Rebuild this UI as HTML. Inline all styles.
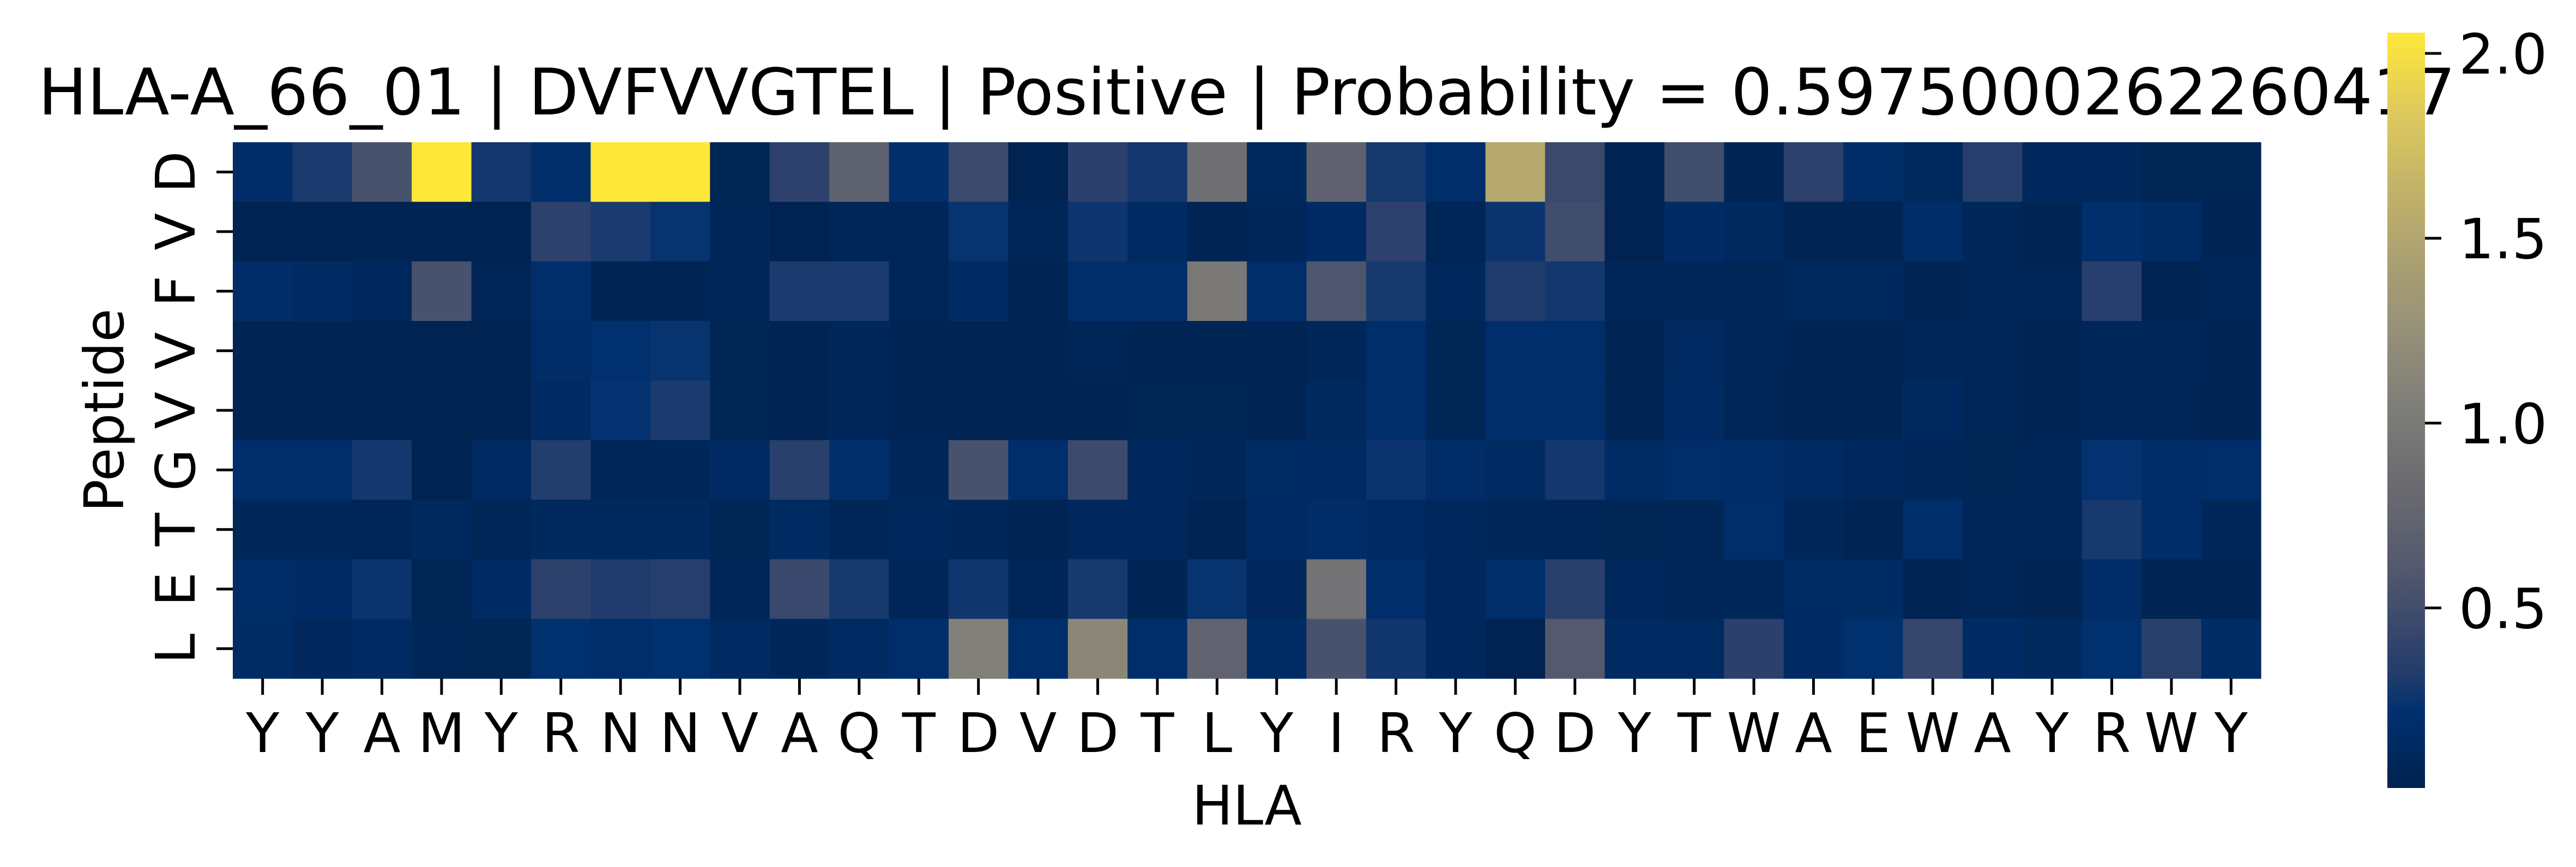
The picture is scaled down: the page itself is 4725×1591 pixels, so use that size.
<!DOCTYPE html>
<html><head><meta charset="utf-8"><style>
html,body{margin:0;padding:0;background:#fff;}
svg{display:block;font-family:"DejaVu Sans","Liberation Sans",sans-serif;}
</style></head><body>
<svg id="chart" width="4725" height="1591" viewBox="0 0 4725 1591" xmlns="http://www.w3.org/2000/svg">
<rect width="4725" height="1591" fill="#fff"/>
<text x="70" y="210" font-size="118" textLength="4434" lengthAdjust="spacingAndGlyphs">HLA-A_66_01 | DVFVVGTEL | Positive | Probability = 0.5975000262260417</text>
<g id="cells"></g>
<g id="xticks"></g>
<g id="yticks"></g>
<text x="2287" y="1513" font-size="100" text-anchor="middle">HLA</text>
<text transform="translate(226,753) rotate(-90)" font-size="100" text-anchor="middle">Peptide</text>
<defs><linearGradient id="cbgrad" x1="0" y1="1" x2="0" y2="0"></linearGradient></defs>
<rect x="4379" y="60" width="69" height="1386" fill="url(#cbgrad)"/>
<g id="cbticks"></g>
</svg>
<script>
const hlaLabels = ["Y","Y","A","M","Y","R","N","N","V","A","Q","T","D","V","D","T","L","Y","I","R","Y","Q","D","Y","T","W","A","E","W","A","Y","R","W","Y"];
const peptideLabels = ["D","V","F","V","V","G","T","E","L"];
const rowD = [0.16,0.30,0.54,2.05,0.28,0.20,2.05,2.05,0.06,0.38,0.71,0.20,0.46,0.03,0.37,0.28,0.87,0.10,0.72,0.29,0.18,1.52,0.46,0.03,0.50,0.05,0.38,0.16,0.10,0.34,0.09,0.09,0.06,0.06];
const rowV1 = [0.03,0.03,0.04,0.04,0.03,0.38,0.30,0.24,0.08,0.03,0.07,0.07,0.24,0.07,0.26,0.13,0.05,0.08,0.12,0.38,0.07,0.25,0.50,0.03,0.14,0.11,0.05,0.05,0.17,0.08,0.04,0.20,0.15,0.05];
const rowF = [0.16,0.13,0.09,0.54,0.07,0.19,0.05,0.05,0.08,0.30,0.30,0.07,0.14,0.04,0.18,0.18,0.99,0.19,0.58,0.29,0.09,0.31,0.28,0.08,0.08,0.07,0.10,0.10,0.05,0.07,0.07,0.35,0.04,0.08];
const rowV2 = [0.05,0.04,0.04,0.03,0.03,0.16,0.21,0.24,0.06,0.04,0.08,0.05,0.05,0.05,0.07,0.05,0.05,0.05,0.08,0.19,0.06,0.19,0.19,0.04,0.12,0.08,0.05,0.05,0.08,0.07,0.04,0.08,0.08,0.05];
const rowV3 = [0.05,0.05,0.04,0.03,0.03,0.12,0.23,0.30,0.06,0.04,0.08,0.05,0.05,0.04,0.05,0.06,0.06,0.05,0.10,0.19,0.06,0.19,0.19,0.04,0.14,0.07,0.04,0.05,0.11,0.07,0.05,0.08,0.07,0.05];
const rowG = [0.18,0.18,0.28,0.03,0.12,0.33,0.07,0.08,0.12,0.36,0.20,0.08,0.54,0.18,0.47,0.09,0.08,0.15,0.12,0.25,0.17,0.13,0.28,0.15,0.18,0.16,0.13,0.09,0.08,0.06,0.08,0.23,0.17,0.19];
const rowT = [0.08,0.08,0.07,0.11,0.07,0.10,0.10,0.10,0.06,0.13,0.07,0.09,0.08,0.04,0.09,0.09,0.05,0.13,0.16,0.13,0.09,0.08,0.07,0.06,0.07,0.18,0.08,0.05,0.18,0.08,0.08,0.29,0.17,0.08];
const rowE = [0.17,0.14,0.25,0.06,0.14,0.38,0.31,0.34,0.08,0.45,0.29,0.07,0.27,0.07,0.29,0.05,0.24,0.09,0.92,0.19,0.09,0.19,0.36,0.09,0.08,0.08,0.15,0.15,0.04,0.07,0.05,0.17,0.04,0.04];
const rowL = [0.15,0.09,0.13,0.07,0.06,0.22,0.19,0.21,0.13,0.08,0.13,0.18,1.08,0.19,1.15,0.19,0.73,0.15,0.54,0.27,0.09,0.03,0.62,0.13,0.13,0.37,0.14,0.22,0.43,0.14,0.10,0.22,0.36,0.15];
const cbTicks = [0.5,1.0,1.5,2.0];
const cbTickLabels = ["0.5","1.0","1.5","2.0"];

const matrix = [rowD,rowV1,rowF,rowV2,rowV3,rowG,rowT,rowE,rowL];
const vmin = 0.013, vmax = 2.056;
const X0 = 427, X1 = 4147, Y0 = 261, Y1 = 1245;
const CB_TOP = 60, CB_BOT = 1446;
const cw = (X1 - X0) / hlaLabels.length, ch = (Y1 - Y0) / peptideLabels.length;
const xPos = i => X0 + i * cw;
const yPos = j => Y0 + j * ch;
const cbY = v => CB_BOT - (v - vmin) / (vmax - vmin) * (CB_BOT - CB_TOP);
const stops = [[0,"#00224e"],[0.05,"#002a60"],[0.10,"#00306f"],[0.15,"#213c6c"],[0.20,"#35456c"],[0.25,"#45506c"],[0.30,"#555a6d"],[0.40,"#6b6b70"],[0.50,"#7d7c78"],[0.60,"#948f78"],[0.70,"#aba071"],[0.80,"#c4b468"],[0.90,"#e0cb5a"],[1.00,"#fee838"]];
function hex2rgb(h){return [1,3,5].map(k=>parseInt(h.substr(k,2),16));}
function cmap(v){
  let t = Math.max(0, Math.min(1, (v - vmin) / (vmax - vmin)));
  for (let k = 1; k < stops.length; k++) {
    if (t <= stops[k][0]) {
      const a = stops[k-1], b = stops[k], f = (t - a[0]) / (b[0] - a[0]);
      const ca = hex2rgb(a[1]), cb = hex2rgb(b[1]);
      return "rgb(" + ca.map((c,i)=>Math.round(c + (cb[i]-c)*f)).join(",") + ")";
    }
  }
  return stops[stops.length-1][1];
}
const NS = "http://www.w3.org/2000/svg";
function mk(tag, attrs, parent){const e=document.createElementNS(NS,tag);for(const k in attrs)e.setAttribute(k,attrs[k]);parent.appendChild(e);return e;}

const cells = document.getElementById("cells");
matrix.forEach((row, j) => row.forEach((v, i) => {
  const r = mk("rect", {x: xPos(i), y: yPos(j), width: cw + 0.6, height: ch + 0.6, fill: cmap(v)}, cells);
  
  
}));

const xt = document.getElementById("xticks");
hlaLabels.forEach((lab, i) => {
  const cx = xPos(i) + cw / 2;
  const t = mk("rect", {x: cx - 2.5, y: Y1, width: 5, height: 30, fill: "#000"}, xt);
  
  
  const tx = mk("text", {x: cx, y: 1380, "font-size": 100, "text-anchor": "middle"}, xt);
  tx.textContent = lab;
  
  
});

const yt = document.getElementById("yticks");
peptideLabels.forEach((lab, j) => {
  const cy = yPos(j) + ch / 2;
  const t = mk("rect", {x: X0 - 30, y: cy - 2.5, width: 30, height: 5, fill: "#000"}, yt);
  
  
  const tx = mk("text", {transform: "translate(357," + cy + ") rotate(-90)", "font-size": 100, "text-anchor": "middle"}, yt);
  tx.textContent = lab;
  
  
});

const grad = document.getElementById("cbgrad");
for (let k = 0; k <= 40; k++) {
  const v = vmin + (vmax - vmin) * k / 40;
  mk("stop", {offset: (k / 40), "stop-color": cmap(v)}, grad);
}
const cbt = document.getElementById("cbticks");
cbTicks.forEach((v, k) => {
  const y = cbY(v);
  const t = mk("rect", {x: 4448, y: y - 2.5, width: 30, height: 5, fill: "#000"}, cbt);
  
  
  const tx = mk("text", {x: 4510, y: y + 37, "font-size": 102}, cbt);
  tx.textContent = cbTickLabels[k];
  
  
});
</script>
</body></html>
